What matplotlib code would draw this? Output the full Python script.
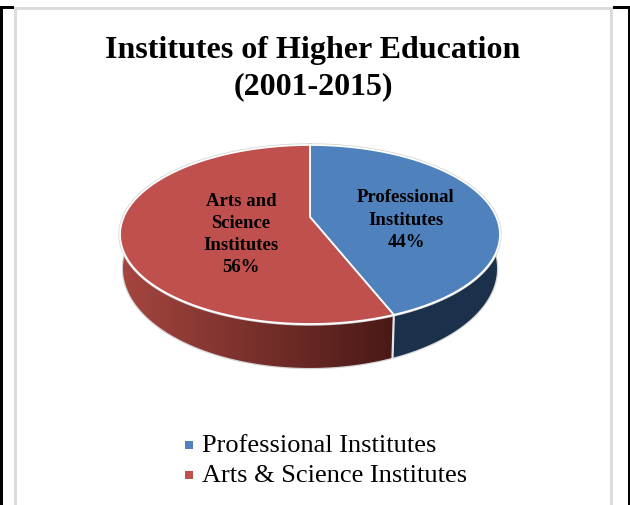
"""Institutes of higher education, drawn as a tilted 3D pie with a projected top face."""

import matplotlib
matplotlib.use("Agg")
import matplotlib.pyplot as plt
from matplotlib.patches import Polygon, Rectangle
import numpy as np

# ── data ──────────────────────────────────────────────────────────────────────
TITLE_LINES = ["Institutes of Higher Education", "(2001-2015)"]
SHARES = [44, 56]
SLICE_NAMES = [["Professional", "Institutes"], ["Arts and", "Science", "Institutes"]]
LEGEND_NAMES = ["Professional Institutes", "Arts & Science Institutes"]

# ── colours ───────────────────────────────────────────────────────────────────
BLUE = "#4f81bd"
RED = "#c0504d"
BLUE_SIDE = "#1b304a"
RED_SIDE_LIGHT = "#a5453f"
RED_SIDE_DARK = "#481916"
RIM = "#d4d4d4"
FRAME = "#dcdcdc"

SERIF = "Liberation Serif"

# pie geometry, in pixels
CX = 310
KEEP = 0.1955  # perspective strength
TOP = dict(a=186.3, b=86.1, y0=218)
BOTTOM = dict(a=183.4, b=95.7, y0=250)


def project(theta, a, b, y0):
    # theta runs clockwise from 12 o'clock, nearer points come out larger
    u, v = np.sin(theta), np.cos(theta)
    w = 1 + KEEP * v
    return np.column_stack([CX + a * u / w, y0 - b * v / w])


def arc(start, end, rim, n=200):
    return project(np.linspace(start, end, n), **rim)


fig = plt.figure(figsize=(6.3, 5.06), dpi=100)
ax = fig.add_axes([0, 0, 1, 1])
ax.set_xlim(0, 630)
ax.set_ylim(506, 0)
ax.axis("off")

# page rules and chart frame
for x, y, w, h, c in [
    (0, 8, 2.5, 498, "black"),
    (627.5, 8, 2.5, 498, "black"),
    (0, 7, 14, 2.5, "black"),
    (613, 7, 17, 2.5, "black"),
    (14, 8, 2.5, 498, FRAME),
    (610, 8, 2.5, 498, FRAME),
    (14, 8, 598, 2.5, FRAME),
]:
    ax.add_patch(Rectangle((x, y), w, h, facecolor=c, edgecolor="none", zorder=1))

# slice boundaries from the shares
edges = np.concatenate([[0], np.cumsum(SHARES)]) / sum(SHARES) * 2 * np.pi
split = edges[1]

# side wall of the pie
blue_wall = np.vstack([arc(0, split, TOP), arc(split, 0, BOTTOM)])
red_wall = np.vstack([arc(split, 2 * np.pi, TOP), arc(2 * np.pi, split, BOTTOM)])

outer = np.vstack([arc(np.pi / 2, 3 * np.pi / 2, BOTTOM)])
ax.plot(outer[:, 0], outer[:, 1], color=RIM, lw=1.8, zorder=2, solid_capstyle="round")

ax.add_patch(Polygon(blue_wall, closed=True, facecolor=BLUE_SIDE, edgecolor="none", zorder=3))

shade = np.linspace(0, 1, 256)[None, :]
cmap = matplotlib.colors.LinearSegmentedColormap.from_list("side", [RED_SIDE_LIGHT, RED_SIDE_DARK])
clip = Polygon(red_wall, closed=True, facecolor="none", edgecolor="none", zorder=3)
ax.add_patch(clip)
im = ax.imshow(shade, cmap=cmap, extent=(122, 397, 375, 200), aspect="auto", zorder=3)
im.set_clip_path(clip)
ax.set_xlim(0, 630)
ax.set_ylim(506, 0)

# divider on the wall between the two slices
joint = np.vstack([project(np.array([split]), **TOP), project(np.array([split]), **BOTTOM)])
ax.plot(joint[:, 0], joint[:, 1], color="#e6e6e6", lw=1.6, zorder=4)

# top face
rim = arc(0, 2 * np.pi, TOP, 400)
ax.plot(rim[:, 0], rim[:, 1], color=RIM, lw=2.4, zorder=5)
apex = np.array([[CX, TOP["y0"]]])
for start, end, colour in zip(edges[:-1], edges[1:], [BLUE, RED]):
    face = np.vstack([apex, arc(start, end, TOP)])
    ax.add_patch(Polygon(face, closed=True, facecolor=colour, edgecolor="white",
                         linewidth=1.3, joinstyle="round", zorder=6))

# title
for line, y in zip(TITLE_LINES, [50.5, 86.5]):
    ax.text(313, y, line, family=SERIF, weight="bold", fontsize=23, ha="center", va="center",
            color="black", zorder=7)

# slice labels
label_spots = [(406, [197.5, 220.5, 242.5]), (241, [201.5, 223.5, 245.5, 267.5])]
for names, share, (x, ys) in zip(SLICE_NAMES, SHARES, label_spots):
    for line, y in zip(names + [f"{share}%"], ys):
        ax.text(x, y, line, family=SERIF, weight="bold", fontsize=13.5, ha="center", va="center",
                color="black", zorder=7)

# legend
for name, colour, y in zip(LEGEND_NAMES, [BLUE, RED], [446, 476]):
    ax.add_patch(Rectangle((185, y - 4), 8, 8, facecolor=colour, edgecolor="none", zorder=7))
    ax.text(202, y, name, family=SERIF, fontsize=19, ha="left", va="center", color="black", zorder=7)

fig.savefig("out.png", dpi=100, facecolor="white")
